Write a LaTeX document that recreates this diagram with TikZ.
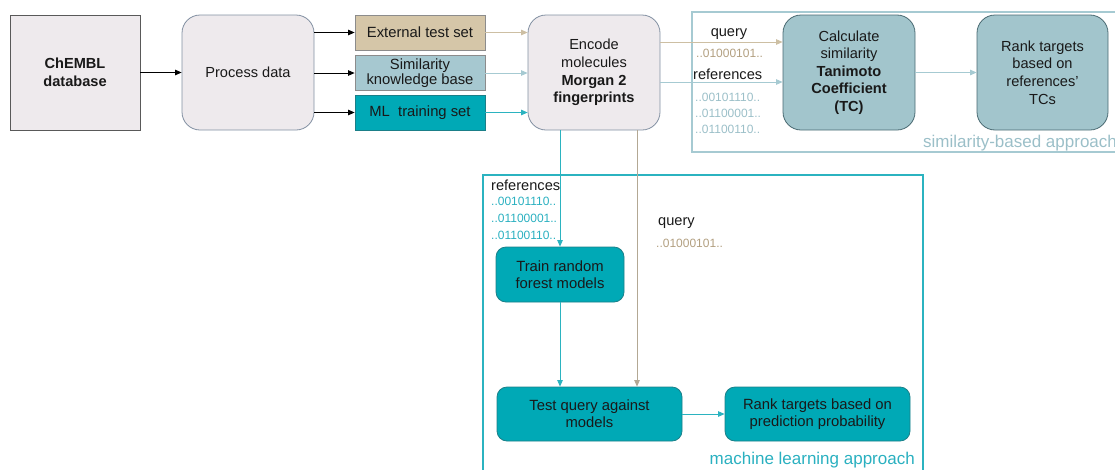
\documentclass[tikz,border=0pt]{standalone}
\usepackage{fontspec}
\setmainfont{Liberation Sans}
\usetikzlibrary{arrows.meta}
\definecolor{boxgray}{HTML}{EEEAED}
\definecolor{edgegray}{HTML}{8290A2}
\definecolor{tanfill}{HTML}{D5C6A8}
\definecolor{lbfill}{HTML}{A6C8D0}
\definecolor{tealfill}{HTML}{00A9B6}
\definecolor{calcfill}{HTML}{A2C5CC}
\definecolor{calcedge}{HTML}{4A6A72}
\definecolor{tealedge}{HTML}{1B7F88}
\definecolor{tanline}{HTML}{CDBFA3}
\definecolor{lbline}{HTML}{A6CAD2}
\definecolor{tealline}{HTML}{2BB3C0}
\definecolor{tantext}{HTML}{B29F80}
\definecolor{tealtext}{HTML}{2AB0C0}
\definecolor{lbtext}{HTML}{9BBFC8}
\definecolor{gline}{HTML}{B3A894}
\tikzset{
  base/.style={align=center, inner sep=1pt, font=\fontsize{14.6}{17.6}\selectfont, text=black!90, line width=0.8pt},
  squarebox/.style={base, draw=black!65, fill=boxgray, minimum width=130, minimum height=115},
  roundbox/.style={base, draw=edgegray, fill=boxgray, rounded corners=18, minimum width=132, minimum height=115},
  setbox/.style={base, minimum width=130, minimum height=35, font=\fontsize{14.8}{16}\selectfont},
  calcbox/.style={base, draw=calcedge, fill=calcfill, rounded corners=18, minimum width=132, minimum height=115},
  mlbox/.style={base, draw=tealedge, fill=tealfill, rounded corners=10, minimum height=54, font=\fontsize{14.8}{17}\selectfont},
  arr/.style={-{Triangle[length=6.5pt,width=5.5pt]}, line width=0.8pt},
  lbl/.style={inner sep=0pt, anchor=west, font=\fontsize{14.6}{16}\selectfont, text=black!90},
  bin/.style={inner sep=0pt, anchor=west, font=\fontsize{12}{14}\selectfont},
}
\begin{document}
\begin{tikzpicture}[x=1pt,y=-1pt]
\useasboundingbox (0,0) rectangle (1115,469);
% approach frames
\draw[lbline, line width=1.2pt] (1125,152) -- (692,152) -- (692,12) -- (1125,12);
\node[inner sep=0pt, anchor=west, text=lbtext, font=\fontsize{17}{20}\selectfont] (simlab) at (923,143) {similarity-based approach};
\draw[tealline, line width=1.2pt] (483,480) -- (483,175) -- (923,175) -- (923,480);
\node[inner sep=0pt, anchor=east, text=tealtext, font=\fontsize{17}{20}\selectfont] (mllab) at (915,460) {machine learning approach};

% main nodes
\node[squarebox] (chembl) at (75,72.5) {\textbf{ChEMBL}\\\textbf{database}};
\node[roundbox] (process) at (248,72.5) {Process data};
\node[setbox, draw=black!45, fill=tanfill] (ext) at (420,32.5) {External test set};
\node[setbox, draw=black!45, fill=lbfill] (simkb) at (420,73) {Similarity\\[-1pt]knowledge base};
\node[setbox, draw=tealedge, fill=tealfill] (mlset) at (420,112.5) {ML\ \ training set};
\node[roundbox] (encode) at (594,72.5) {Encode\\molecules\\\textbf{Morgan 2}\\\textbf{fingerprints}};
\node[calcbox] (calc) at (849,72.5) {Calculate\\similarity\\\textbf{Tanimoto}\\\textbf{Coefficient}\\\textbf{(TC)}};
\node[calcbox, minimum width=131] (rank1) at (1042.5,72.5) {Rank targets\\based on\\references'\\TCs};
\node[mlbox, minimum width=128, minimum height=55] (train) at (560,274.5) {Train random\\forest models};
\node[mlbox, minimum width=185] (test) at (589.5,414) {Test query against\\models};
\node[mlbox, minimum width=185] (rank2) at (817.5,414) {Rank targets based on\\prediction probability};

% helper coordinates
\coordinate (qy) at (0,42);
\coordinate (ry) at (0,82);
\coordinate (qx) at (637,0);

% connectors
\draw[arr] (chembl) -- (process);
\draw[arr] (process.east |- ext) -- (ext);
\draw[arr] (process.east |- simkb) -- (simkb);
\draw[arr] (process.east |- mlset) -- (mlset);
\draw[arr, tanline] (ext) -- (encode.west |- ext);
\draw[arr, lbline] (simkb) -- (encode.west |- simkb);
\draw[arr, tealline] (mlset) -- (encode.west |- mlset);
\draw[arr, tanline] (encode.east |- qy) -- (calc.west |- qy);
\draw[arr, lbline] (encode.east |- ry) -- (calc.west |- ry);
\draw[arr, lbline] (calc) -- (rank1);
\draw[arr, tealline] (encode.south -| train) -- (train.north);
\draw[arr, tealline] (train) -- (test.north -| train);
\draw[arr, gline] (encode.south -| qx) -- (test.north -| qx);
\draw[arr, tealline] (test) -- (rank2);

% labels (similarity)
\node[lbl, anchor=center] (q1) at (729,34) {query};
\node[bin, text=tantext] (q1b) at (696,53) {..01000101..};
\node[lbl] (r1) at (693,74) {references};
\node[bin, text=lbtext] (r1a) at (695,97) {..00101110..};
\node[bin, text=lbtext] (r1b) at (695,113) {..01100001..};
\node[bin, text=lbtext] (r1c) at (695,129) {..01100110..};
% labels (ML)
\node[lbl] (r2) at (491,185) {references};
\node[bin, text=tealtext] (r2a) at (491,201) {..00101110..};
\node[bin, text=tealtext] (r2b) at (491,218) {..01100001..};
\node[bin, text=tealtext] (r2c) at (491,235) {..01100110..};
\node[lbl] (q2) at (658,223) {query};
\node[bin, text=tantext] (q2b) at (656,243) {..01000101..};
\end{tikzpicture}
\end{document}
